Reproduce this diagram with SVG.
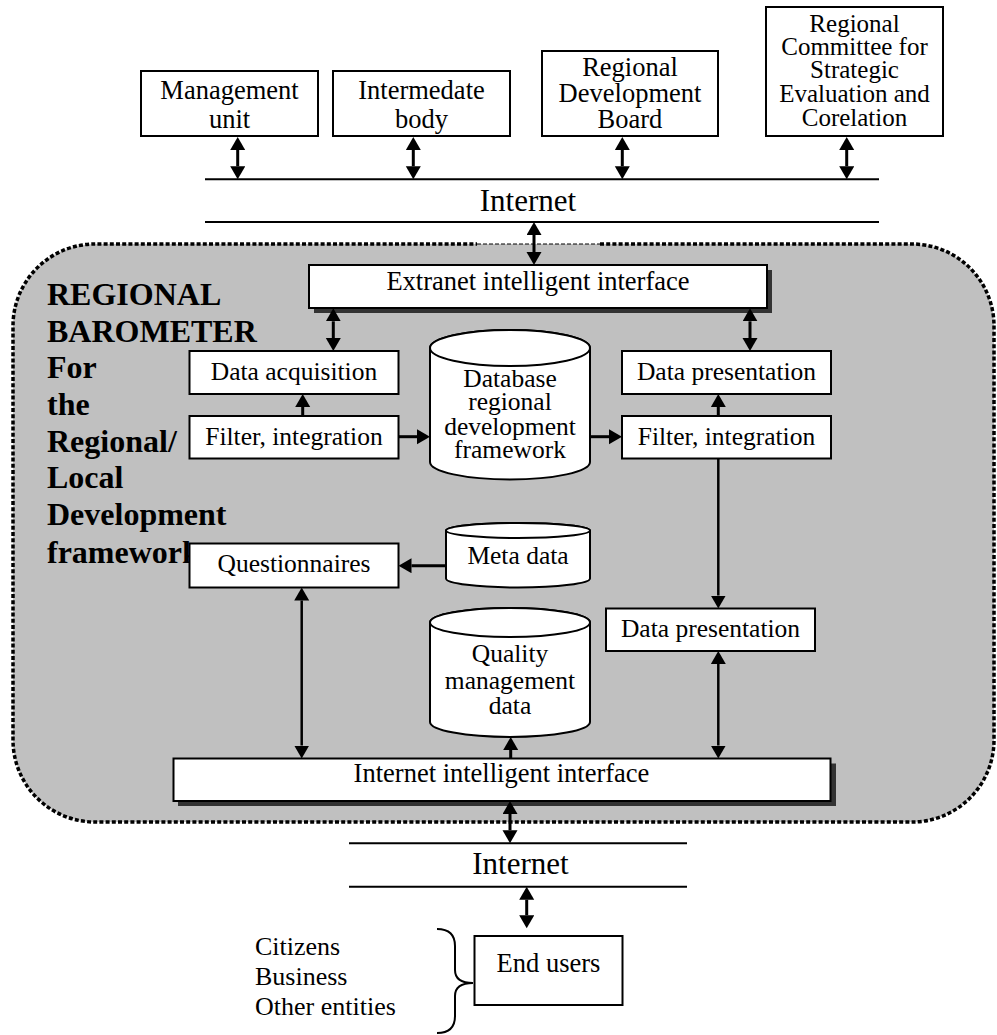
<svg xmlns="http://www.w3.org/2000/svg" width="997" height="1035" viewBox="0 0 997 1035">
  <style>
    .box { fill: #ffffff; stroke: #000000; stroke-width: 2; }
    .shadow { fill: #333333; }
    .db { fill: #ffffff; stroke: #000000; stroke-width: 2; }
    .net { stroke: #000000; stroke-width: 2; fill: none; }
    .lbl { font-family: "Liberation Serif", "Times New Roman", serif; font-size: 26.5px; fill: #000000; text-anchor: middle; }
    .lbl-s { font-family: "Liberation Serif", "Times New Roman", serif; font-size: 25.5px; fill: #000000; text-anchor: middle; }
    .net-lbl { font-family: "Liberation Serif", "Times New Roman", serif; font-size: 31px; fill: #000000; text-anchor: middle; }
    .title { font-family: "Liberation Serif", "Times New Roman", serif; font-size: 32px; font-weight: bold; fill: #000000; }
    .side { font-family: "Liberation Serif", "Times New Roman", serif; font-size: 26px; fill: #000000; }
    .conn { stroke: #000000; stroke-width: 3; fill: none; }
    .conn-thin { stroke: #000000; stroke-width: 2.5; fill: none; }
    .one { marker-end: url(#head); }
    .two { marker-start: url(#head); marker-end: url(#head); }
  </style>
  <defs>
    <marker id="head" markerUnits="userSpaceOnUse" markerWidth="14" markerHeight="16" refX="0" refY="7.5" orient="auto-start-reverse">
      <path d="M0,0 L13,7.5 L0,15 Z" fill="#000000"/>
    </marker>
  </defs>

  <!-- Barometer area: grey rounded panel with dotted border -->
  <g id="barometer-area">
    <rect x="13" y="244" width="981" height="578" rx="82" ry="82" fill="#c0c0c0"/>
    <path d="M600,244 H912 A82,82 0 0 1 994,326 V740 A82,82 0 0 1 912,822 H95 A82,82 0 0 1 13,740 V326 A82,82 0 0 1 95,244 H477" fill="none" stroke="#000000" stroke-width="3.5" stroke-dasharray="4 2.2"/>
    <line x1="477" y1="244" x2="600" y2="244" stroke="#000000" stroke-width="1" stroke-dasharray="4 2"/>
    <text class="title" x="47" y="305">REGIONAL</text>
    <text class="title" x="47" y="342">BAROMETER</text>
    <text class="title" x="47" y="378">For</text>
    <text class="title" x="47" y="415">the</text>
    <text class="title" x="47" y="452">Regional/</text>
    <text class="title" x="47" y="488">Local</text>
    <text class="title" x="47" y="525">Development</text>
    <text class="title" x="47" y="563">framework</text>
  </g>

  <!-- Top level actors -->
  <g id="management-unit">
    <rect class="box" x="141" y="71" width="177" height="65"/>
    <text class="lbl" x="229.5" y="99">Management</text>
    <text class="lbl" x="229.5" y="128">unit</text>
  </g>
  <g id="intermediate-body">
    <rect class="box" x="333" y="71" width="177" height="65"/>
    <text class="lbl" x="421.5" y="99">Intermedate</text>
    <text class="lbl" x="421.5" y="128">body</text>
  </g>
  <g id="regional-development-board">
    <rect class="box" x="542" y="51" width="176" height="85"/>
    <text class="lbl" x="630" y="76">Regional</text>
    <text class="lbl" x="630" y="102">Development</text>
    <text class="lbl" x="630" y="128">Board</text>
  </g>
  <g id="regional-committee">
    <rect class="box" x="766" y="7" width="177" height="129"/>
    <text class="lbl" x="854.5" y="32" style="font-size:25px">Regional</text>
    <text class="lbl" x="854.5" y="55" style="font-size:25px">Committee for</text>
    <text class="lbl" x="854.5" y="78" style="font-size:25px">Strategic</text>
    <text class="lbl" x="854.5" y="102" style="font-size:25px">Evaluation and</text>
    <text class="lbl" x="854.5" y="126" style="font-size:25px">Corelation</text>
  </g>

  <!-- Upper internet bus -->
  <g id="internet-top">
    <line class="net" x1="205" y1="179.3" x2="879" y2="179.3"/>
    <line class="net" x1="205" y1="222" x2="879" y2="222"/>
    <text class="net-lbl" x="528" y="210.5">Internet</text>
  </g>

  <g id="extranet-interface">
    <rect class="shadow" x="314" y="270" width="458" height="43"/>
    <rect class="box" x="309" y="265" width="458" height="43"/>
    <text class="lbl" x="538" y="290">Extranet intelligent interface</text>
  </g>

  <g id="data-acquisition">
    <rect class="box" x="189.5" y="351" width="209" height="43"/>
    <text class="lbl-s" x="294" y="380">Data acquisition</text>
  </g>
  <g id="filter-left">
    <rect class="box" x="189.5" y="416" width="209" height="42.5"/>
    <text class="lbl-s" x="294" y="445">Filter, integration</text>
  </g>

  <g id="database-framework">
    <path class="db" d="M430,348 V462 A80,17.5 0 0 0 590,462 V348 A80,18 0 0 0 430,348 Z"/>
    <ellipse class="db" cx="510" cy="348" rx="80" ry="18"/>
    <text class="lbl-s" x="510" y="387">Database</text>
    <text class="lbl-s" x="510" y="410">regional</text>
    <text class="lbl-s" x="510" y="435">development</text>
    <text class="lbl-s" x="510" y="458">framework</text>
  </g>

  <g id="data-presentation-top">
    <rect class="box" x="622" y="351" width="209" height="43"/>
    <text class="lbl-s" x="726.5" y="380">Data presentation</text>
  </g>
  <g id="filter-right">
    <rect class="box" x="622" y="416" width="209" height="42.5"/>
    <text class="lbl-s" x="726.5" y="445">Filter, integration</text>
  </g>

  <g id="questionnaires">
    <rect class="box" x="189.5" y="543.5" width="209" height="44"/>
    <text class="lbl-s" x="294" y="572">Questionnaires</text>
  </g>

  <g id="meta-data">
    <path class="db" d="M446,530.5 V578.5 A72,9 0 0 0 590,578.5 V530.5 A72,7.5 0 0 0 446,530.5 Z"/>
    <ellipse class="db" cx="518" cy="530.5" rx="72" ry="7.5"/>
    <text class="lbl-s" x="518" y="563.5">Meta data</text>
  </g>

  <g id="quality-data">
    <path class="db" d="M430,622.5 V722 A80,15 0 0 0 590,722 V622.5 A80,14.5 0 0 0 430,622.5 Z"/>
    <ellipse class="db" cx="510" cy="622.5" rx="80" ry="14.5"/>
    <text class="lbl-s" x="510" y="662">Quality</text>
    <text class="lbl-s" x="510" y="688.5">management</text>
    <text class="lbl-s" x="510" y="713.5">data</text>
  </g>

  <g id="data-presentation-bottom">
    <rect class="box" x="606" y="608.5" width="209" height="42.5"/>
    <text class="lbl-s" x="710.5" y="637">Data presentation</text>
  </g>

  <g id="internet-interface">
    <rect class="shadow" x="178" y="763.5" width="658" height="42.5"/>
    <rect class="box" x="173.5" y="758.5" width="657" height="42.5"/>
    <text class="lbl" x="501.5" y="782">Internet intelligent interface</text>
  </g>

  <!-- Lower internet bus -->
  <g id="internet-bottom">
    <line class="net" x1="349" y1="843.3" x2="687" y2="843.3"/>
    <line class="net" x1="349" y1="886.7" x2="687" y2="886.7"/>
    <text class="net-lbl" x="520.5" y="874">Internet</text>
  </g>

  <g id="end-users">
    <rect class="box" x="474.5" y="936" width="148" height="69"/>
    <text class="lbl" x="548.5" y="972">End users</text>
  </g>

  <g id="user-groups">
    <text class="side" x="255" y="955">Citizens</text>
    <text class="side" x="255" y="984.5">Business</text>
    <text class="side" x="255" y="1014.5">Other entities</text>
    <path d="M437,929 Q455,929 455,946 V970 Q455,983 473,983 Q455,983 455,996 V1016 Q455,1033 437,1033" fill="none" stroke="#000000" stroke-width="2"/>
  </g>

  <!-- Connectors -->
  <g id="connectors">
    <path class="conn two" d="M237.7,150 V166.3"/>
    <path class="conn two" d="M413.3,150 V166.3"/>
    <path class="conn two" d="M622.3,150 V166.3"/>
    <path class="conn two" d="M846.7,150 V166.3"/>
    <path class="conn two" d="M534,235 V252"/>
    <path class="conn two" d="M333.3,321.3 V338"/>
    <path class="conn two" d="M750,321.3 V338"/>
    <path class="conn one" d="M302.7,416 V407"/>
    <path class="conn one" d="M718.3,416 V407"/>
    <path class="conn one" d="M398.5,436.7 H417"/>
    <path class="conn one" d="M590,436.7 H609"/>
    <path class="conn one" d="M446,565.7 H411.5"/>
    <path class="conn-thin two" d="M301.7,600.5 V745.5"/>
    <path class="conn-thin one" d="M718.3,458.5 V595.5"/>
    <path class="conn-thin two" d="M718.3,664 V745.5"/>
    <path class="conn one" d="M510.7,758.5 V750"/>
    <path class="conn two" d="M510,814 V830.3"/>
    <path class="conn two" d="M526.7,899.7 V915.3"/>
  </g>
</svg>
